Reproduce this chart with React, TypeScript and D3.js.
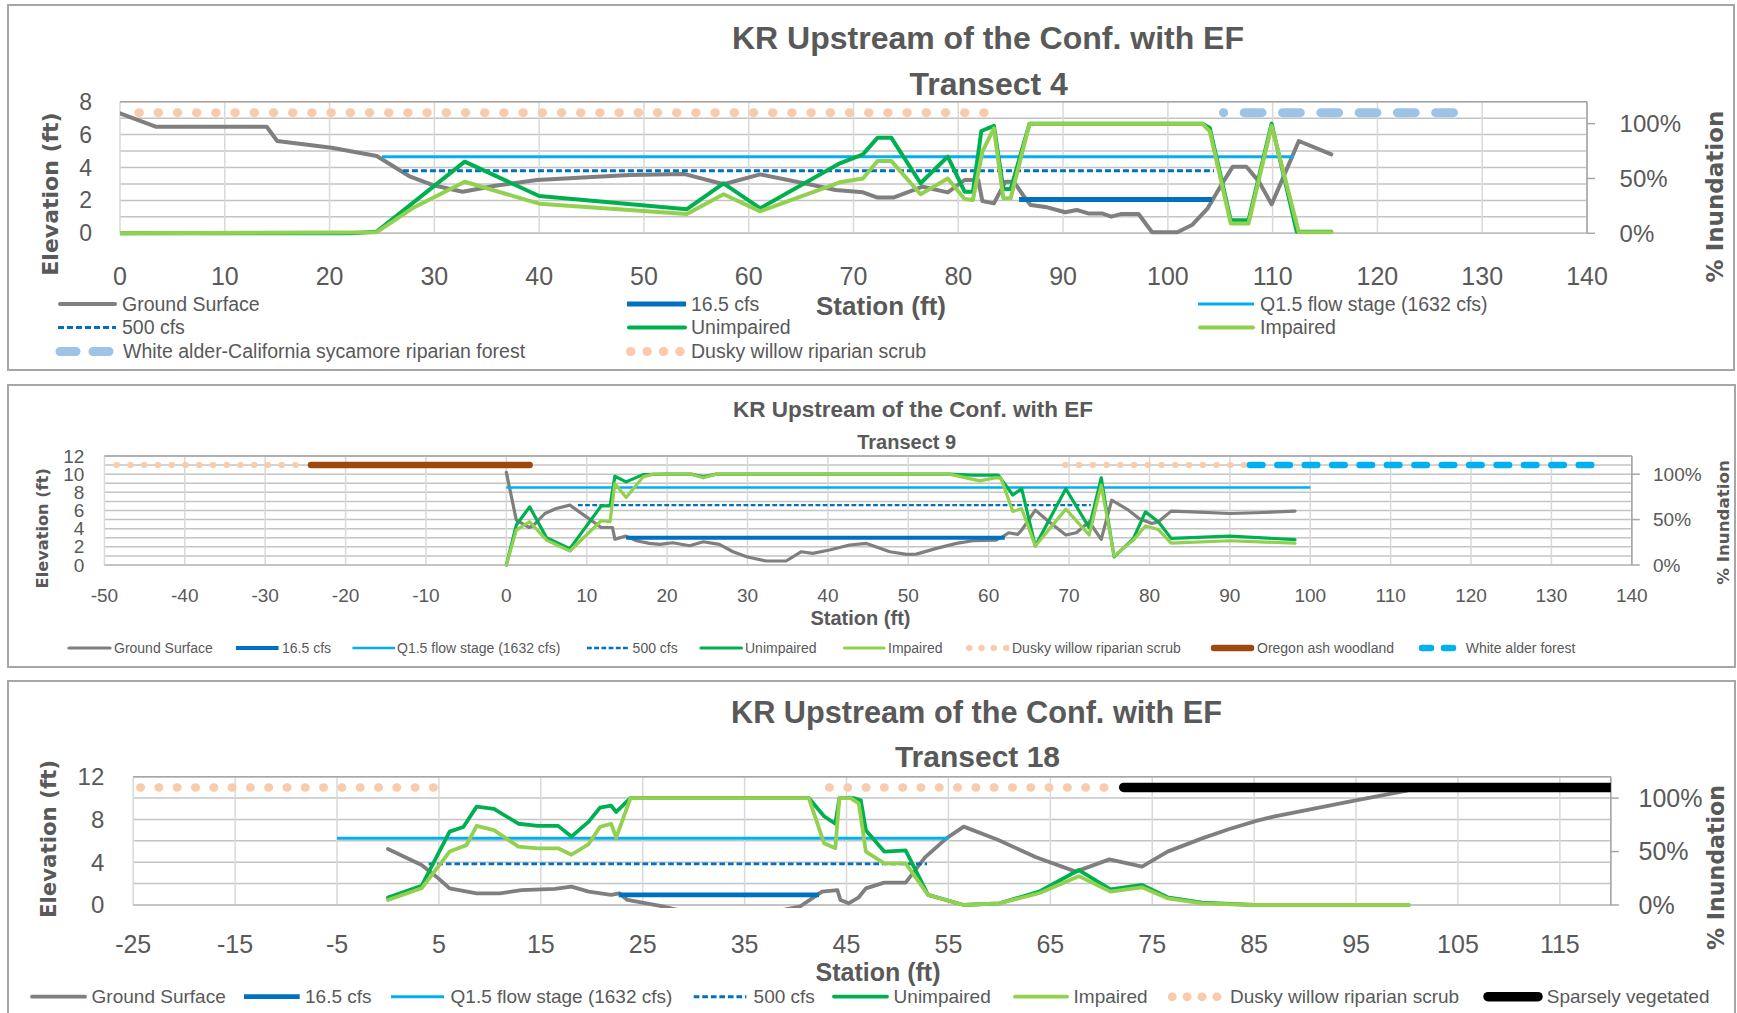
import React from 'react';
import * as d3 from 'd3';

type Pt = [number, number];

// ---------- Transect 4 ----------
const t4Ground: Pt[] = [[0,7.29],[3.4,6.48],[14.0,6.48],[15.0,5.61],[20.2,5.2],[24.5,4.7],[27.7,3.44],[29.8,2.94],[32.7,2.53],[35.8,2.89],[39.8,3.24],[48.6,3.54],[53.9,3.6],[57.6,2.98],[61.1,3.58],[66.1,2.94],[68.3,2.63],[70.9,2.49],[72.3,2.17],[73.8,2.17],[76.6,2.83],[79.0,2.49],[80.6,3.24],[81.9,3.24],[82.3,1.96],[83.4,1.82],[84.5,3.14],[85.3,3.14],[86.2,2.3],[86.9,1.72],[88.5,1.58],[90.2,1.28],[91.3,1.42],[92.4,1.21],[93.7,1.21],[94.6,1.01],[95.5,1.17],[97.2,1.17],[98.5,0.06],[100.9,0.06],[102.3,0.5],[103.8,1.52],[105.1,2.94],[106.2,4.05],[107.5,4.05],[108.7,3.14],[109.9,1.76],[112.5,5.61],[115.6,4.8]];
const t4Unimpaired: Pt[] = [[0,0],[22,0],[24.5,0.015],[32.9,0.653],[40,0.34],[54.1,0.22],[57.6,0.456],[61.1,0.228],[68.7,0.638],[70.9,0.72],[72.3,0.872],[73.6,0.872],[76.4,0.456],[79.0,0.7],[80.6,0.38],[81.4,0.38],[82.2,0.933],[83.4,0.98],[84.3,0.404],[85.0,0.404],[86.8,1.0],[103.3,1.0],[104.0,0.96],[106.0,0.12],[107.7,0.12],[109.9,1.0],[112.3,0.015],[115.6,0.015]];
const t4Impaired: Pt[] = [[0,0],[24.5,0.01],[27.9,0.228],[32.9,0.47],[40,0.27],[54.1,0.176],[57.6,0.356],[61.1,0.2],[68.7,0.465],[70.9,0.5],[72.3,0.66],[73.6,0.66],[76.4,0.356],[79.0,0.5],[80.6,0.313],[81.4,0.304],[82.3,0.745],[83.4,0.957],[84.3,0.32],[85.0,0.32],[86.8,1.0],[103.3,1.0],[104.0,0.93],[106.0,0.09],[107.7,0.09],[109.9,0.98],[112.5,0.01],[115.6,0.01]];
const t4Q15: Pt[] = [[25,4.66],[112,4.66]];
const t4Cfs500: Pt[] = [[27,3.8],[104.4,3.8]];
const t4Cfs16: Pt[] = [[85.8,2.06],[104.2,2.06]];
const t4DuskyWillow: Pt[] = [[1.8,1.1],[82.6,1.1]];
const t4WhiteAlder: Pt[] = [[105.3,1.1],[127.8,1.1]];

// ---------- Transect 9 ----------
const t9Ground: Pt[] = [[0,10.2],[1.24,4.94],[2.8,4.13],[3.3,4.3],[4.8,5.67],[6.2,6.22],[7.9,6.59],[9.95,5.3],[11.8,4.13],[13.2,4.13],[13.5,2.85],[14.9,3.18],[16.2,2.67],[17.8,2.38],[19.1,2.27],[20.7,2.45],[22.8,2.12],[24.5,2.56],[26.5,2.27],[28.2,1.46],[29.9,0.91],[32.3,0.44],[34.8,0.44],[36.7,1.46],[38.1,1.28],[40.2,1.65],[42.7,2.2],[44.8,2.38],[47.7,1.46],[49.8,1.17],[51.0,1.2],[53.5,1.83],[56.0,2.38],[58.0,2.67],[60.9,2.74],[61.7,3.1],[62.5,3.55],[63.6,3.37],[64.1,3.84],[65.8,6.04],[67.5,4.76],[69.6,3.3],[70.9,3.55],[72.5,4.76],[74.0,2.82],[75.3,7.13],[77.4,6.04],[78.7,5.12],[80.3,4.57],[81.1,4.76],[82.7,5.93],[85.3,5.85],[90,5.67],[94.2,5.78],[98.1,5.93]];
const t9Unimpaired: Pt[] = [[0,0],[1.24,0.44],[2.9,0.64],[5.0,0.3],[7.9,0.18],[11.8,0.65],[12.9,0.65],[13.5,0.977],[14.9,0.915],[17.0,0.995],[19.9,1.0],[23,1.0],[24.5,0.97],[26.1,1.0],[55.1,1.0],[58.0,0.99],[61.2,0.99],[63.0,0.77],[64.1,0.84],[65.8,0.21],[69.6,0.84],[72.5,0.41],[74.0,0.96],[75.6,0.09],[78.0,0.29],[79.5,0.585],[81.1,0.476],[82.7,0.293],[90,0.318],[98.1,0.28]];
const t9Impaired: Pt[] = [[0,0],[1.24,0.384],[2.9,0.476],[5.0,0.274],[7.9,0.154],[11.8,0.487],[12.9,0.476],[13.5,0.896],[14.9,0.743],[17.0,0.97],[18.3,1.0],[23,1.0],[24.5,0.96],[26.1,1.0],[55.1,1.0],[58.9,0.926],[60.9,0.96],[61.5,0.96],[63.0,0.59],[64.1,0.62],[65.8,0.21],[69.6,0.615],[72.5,0.33],[74.0,0.88],[75.6,0.1],[78.0,0.274],[79.5,0.43],[81.1,0.39],[82.7,0.24],[90,0.267],[98.1,0.24]];
const t9Q15: Pt[] = [[0,8.53],[100,8.53]];
const t9Cfs500: Pt[] = [[8.9,6.59],[72.7,6.59]];
const t9Cfs16: Pt[] = [[14.9,3.0],[62.0,3.0]];
const t9DuskyWillowA: Pt[] = [[-48.5,1.1],[-26,1.1]];
const t9OregonAsh: Pt[] = [[-24.3,1.1],[2.9,1.1]];
const t9DuskyWillowB: Pt[] = [[69.5,1.1],[91.8,1.1]];
const t9WhiteAlder: Pt[] = [[92.5,1.1],[135.2,1.1]];

// ---------- Transect 18 ----------
const t18Ground: Pt[] = [[0,5.24],[3.3,3.74],[4.95,2.49],[6.05,1.56],[8.7,1.09],[11.0,1.09],[13.1,1.4],[16.4,1.5],[18.0,1.72],[19.7,1.25],[21.9,0.94],[22.7,1.09],[23.5,0.47],[26.7,-0.09],[30,-0.8],[35,-1.0],[38,-0.6],[40.4,-0.16],[42.6,1.25],[44.1,1.4],[44.4,0.47],[45.2,0.16],[46.2,0.72],[46.9,1.56],[48.7,2.09],[50.8,2.09],[52.7,4.46],[54.8,6.23],[56.5,7.33],[59.9,6.08],[63.6,4.46],[67.5,3.12],[70.8,4.27],[74.0,3.58],[76.5,4.99],[79.9,6.23],[82.5,7.08],[85.3,7.89],[86.9,8.26],[95.1,9.8],[100,10.7]];
const t18Unimpaired: Pt[] = [[0,0.07],[3.3,0.18],[6.05,0.686],[7.4,0.73],[8.7,0.92],[10.4,0.9],[12.8,0.76],[14.7,0.74],[16.7,0.74],[18.0,0.64],[19.7,0.78],[20.8,0.91],[21.9,0.93],[22.4,0.87],[23.8,1.0],[41.3,1.0],[42.8,0.83],[43.9,0.76],[44.3,1.0],[45.7,1.0],[46.4,0.98],[46.9,0.7],[48.7,0.5],[50.8,0.51],[53.0,0.094],[56.5,0.0],[60.0,0.016],[63.9,0.125],[67.8,0.327],[70.9,0.147],[74.0,0.187],[76.5,0.072],[79.9,0.022],[85,0.0],[100,0.0]];
const t18Impaired: Pt[] = [[0,0.047],[3.3,0.156],[6.05,0.5],[7.7,0.56],[8.7,0.74],[10.4,0.7],[12.8,0.546],[14.7,0.53],[16.7,0.53],[18.0,0.47],[19.7,0.57],[20.8,0.73],[21.9,0.76],[22.4,0.63],[23.8,1.0],[41.3,1.0],[42.8,0.577],[43.9,0.53],[44.3,1.0],[45.4,1.0],[46.2,0.95],[46.9,0.5],[48.7,0.39],[50.8,0.39],[53.0,0.094],[56.5,0.0],[60.0,0.016],[63.9,0.11],[67.8,0.27],[70.9,0.125],[74.0,0.165],[76.5,0.062],[79.9,0.016],[85,0.0],[100.2,0.0]];
const t18Q15: Pt[] = [[-5,6.24],[55,6.24]];
const t18Cfs500: Pt[] = [[4,3.84],[52.9,3.84]];
const t18Cfs16: Pt[] = [[22.65,0.94],[42.3,0.94]];
const t18DuskyWillowA: Pt[] = [[-24.3,1.1],[4.7,1.1]];
const t18DuskyWillowB: Pt[] = [[43.3,1.1],[70.4,1.1]];
const t18Sparse: Pt[] = [[72.2,1.1],[120,1.1]];

// ---------- labels ----------
const chartTitle = 'KR Upstream of the Conf. with EF';
const transectNames = ['Transect 4', 'Transect 9', 'Transect 18'];
const y2Labels = [0, 0.5, 1];

const TXT = '#595959';
const SANS = '"Liberation Sans", Arial, sans-serif';
const DEJA = '"DejaVu Sans", Verdana, sans-serif';

interface Style { color: string; width: number; dash?: string; offset?: number; cap?: 'round' | 'butt' | 'square'; }
interface Series { data: Pt[]; axis: 1 | 2; style: Style; }
interface LegendItem { label: string; style: Style; x1: number; x2: number; y: number; tx: number; }
interface PanelCfg {
  id: string;
  frame: [number, number, number, number];
  plot: { left: number; right: number; top: number; bottom: number };
  xDomain: [number, number];
  xTicks: number[];
  yMax: number;
  yGrid: number[];
  yLabels: number[];
  series: Series[];
  legend: LegendItem[];
  legendSize: number;
  title: { x1: number; y1: number; s1: number; x2: number; y2: number; s2: number; name: string };
  xTick: { size: number; base: number };
  yTick: { size: number; right: number };
  y2Tick: { size: number; left: number };
  elev: { x: number; y: number; size: number };
  inund: { x: number; y: number; size: number };
  station: { x: number; base: number; size: number };
}

function mkStyles(k: number) {
  return {
    ground: { color: '#7F7F7F', width: 4 * k, cap: 'round' } as Style,
    cfs16: { color: '#0070C0', width: 5 * k, cap: 'butt' } as Style,
    q15: { color: '#00B0F0', width: 3 * k, cap: 'butt' } as Style,
    cfs500: { color: '#0070C0', width: 3 * k, dash: `${6 * k} ${3 * k}`, cap: 'butt' } as Style,
    unimp: { color: '#00B050', width: 4 * k, cap: 'round' } as Style,
    imp: { color: '#92D050', width: 4 * k, cap: 'round' } as Style,
  };
}

const s1 = mkStyles(1);
const s2 = mkStyles(0.8);
const s3 = mkStyles(0.95);

const duskyP1: Style = { color: '#F8CBAD', width: 9, dash: '0.5 18.7', cap: 'round' };
const alderP1: Style = { color: '#9DC3E6', width: 9, dash: '17.8 20.5', offset: 17.5, cap: 'round' };
const duskyP2: Style = { color: '#F8CBAD', width: 6, dash: '0.5 13.25', cap: 'round' };
const ashP2: Style = { color: '#9E480E', width: 6.5, cap: 'round' };
const alderP2: Style = { color: '#00B0F0', width: 6.5, dash: '12.5 14.9', cap: 'round' };
const duskyP3: Style = { color: '#F8CBAD', width: 8.5, dash: '0.5 17.8', cap: 'round' };
const sparseP3: Style = { color: '#000000', width: 9.5, cap: 'round' };

const panels: PanelCfg[] = [
  {
    id: 'p1', frame: [8, 5, 1726, 365],
    plot: { left: 120, right: 1587, top: 101.7, bottom: 233.3 },
    xDomain: [0, 140], xTicks: d3.range(0, 141, 10),
    yMax: 8, yGrid: d3.range(0, 9, 1), yLabels: d3.range(0, 9, 2),
    series: [
      { data: t4Ground, axis: 1, style: s1.ground },
      { data: t4Cfs16, axis: 1, style: s1.cfs16 },
      { data: t4Q15, axis: 1, style: s1.q15 },
      { data: t4Cfs500, axis: 1, style: s1.cfs500 },
      { data: t4Unimpaired, axis: 2, style: s1.unimp },
      { data: t4Impaired, axis: 2, style: s1.imp },
      { data: t4WhiteAlder, axis: 2, style: alderP1 },
      { data: t4DuskyWillow, axis: 2, style: duskyP1 },
    ],
    legend: [
      { label: 'Ground Surface', style: s1.ground, x1: 60, x2: 115, y: 304, tx: 122 },
      { label: '16.5 cfs', style: s1.cfs16, x1: 627, x2: 686, y: 304, tx: 691 },
      { label: 'Q1.5 flow stage (1632 cfs)', style: s1.q15, x1: 1198, x2: 1254, y: 304, tx: 1260 },
      { label: '500 cfs', style: s1.cfs500, x1: 58, x2: 116, y: 327.5, tx: 122 },
      { label: 'Unimpaired', style: s1.unimp, x1: 629, x2: 685, y: 327.5, tx: 691 },
      { label: 'Impaired', style: s1.imp, x1: 1200, x2: 1253, y: 327.5, tx: 1260 },
      { label: 'White alder-California sycamore riparian forest', style: { ...alderP1, dash: '16 17', offset: 0 }, x1: 60, x2: 109.5, y: 351.5, tx: 123 },
      { label: 'Dusky willow riparian scrub', style: { ...duskyP1, dash: '0.5 15.9' }, x1: 630.5, x2: 680.5, y: 351.5, tx: 691 },
    ],
    legendSize: 19.5,
    title: { x1: 988, y1: 49.3, s1: 32, x2: 988.7, y2: 95, s2: 32, name: transectNames[0] },
    xTick: { size: 25, base: 285 },
    yTick: { size: 23, right: 92 },
    y2Tick: { size: 24, left: 1619.6 },
    elev: { x: 50, y: 194, size: 22 },
    inund: { x: 1714.5, y: 196.5, size: 23 },
    station: { x: 881, base: 315, size: 26 },
  },
  {
    id: 'p2', frame: [8, 385, 1727, 282],
    plot: { left: 104.4, right: 1631.8, top: 456, bottom: 565 },
    xDomain: [-50, 140], xTicks: d3.range(-50, 141, 10),
    yMax: 12, yGrid: d3.range(0, 13, 1), yLabels: d3.range(0, 13, 2),
    series: [
      { data: t9Ground, axis: 1, style: s2.ground },
      { data: t9Cfs16, axis: 1, style: s2.cfs16 },
      { data: t9Q15, axis: 1, style: s2.q15 },
      { data: t9Cfs500, axis: 1, style: s2.cfs500 },
      { data: t9Unimpaired, axis: 2, style: s2.unimp },
      { data: t9Impaired, axis: 2, style: s2.imp },
      { data: t9DuskyWillowA, axis: 2, style: duskyP2 },
      { data: t9OregonAsh, axis: 2, style: ashP2 },
      { data: t9DuskyWillowB, axis: 2, style: duskyP2 },
      { data: t9WhiteAlder, axis: 2, style: alderP2 },
    ],
    legend: [
      { label: 'Ground Surface', style: s2.ground, x1: 69, x2: 110, y: 648, tx: 114 },
      { label: '16.5 cfs', style: s2.cfs16, x1: 236, x2: 278.6, y: 648, tx: 282 },
      { label: 'Q1.5 flow stage (1632 cfs)', style: s2.q15, x1: 352.4, x2: 395, y: 648, tx: 397 },
      { label: '500 cfs', style: s2.cfs500, x1: 587, x2: 630, y: 648, tx: 632.6 },
      { label: 'Unimpaired', style: s2.unimp, x1: 701, x2: 741.5, y: 648, tx: 745 },
      { label: 'Impaired', style: s2.imp, x1: 844.5, x2: 884, y: 648, tx: 888 },
      { label: 'Dusky willow riparian scrub', style: { ...duskyP2, dash: '0.5 11.8' }, x1: 969, x2: 1006.5, y: 648, tx: 1012 },
      { label: 'Oregon ash woodland', style: ashP2, x1: 1214, x2: 1251, y: 648, tx: 1257 },
      { label: 'White alder forest', style: { ...alderP2, dash: '9 13', offset: 0 }, x1: 1422, x2: 1458, y: 648, tx: 1465.7 },
    ],
    legendSize: 14,
    title: { x1: 913, y1: 416.7, s1: 22.5, x2: 906.7, y2: 449.3, s2: 20, name: transectNames[1] },
    xTick: { size: 19, base: 601.7 },
    yTick: { size: 19, right: 84.4 },
    y2Tick: { size: 19, left: 1653 },
    elev: { x: 42, y: 528.3, size: 16.2 },
    inund: { x: 1722.8, y: 522.5, size: 16.7 },
    station: { x: 860.5, base: 625, size: 20 },
  },
  {
    id: 'p3', frame: [8, 681, 1727, 345],
    plot: { left: 133.2, right: 1610.8, top: 776.7, bottom: 905 },
    xDomain: [-25, 120], xTicks: d3.range(-25, 116, 10),
    yMax: 12, yGrid: d3.range(0, 13, 2), yLabels: d3.range(0, 13, 4),
    series: [
      { data: t18Ground, axis: 1, style: s3.ground },
      { data: t18Cfs16, axis: 1, style: s3.cfs16 },
      { data: t18Q15, axis: 1, style: s3.q15 },
      { data: t18Cfs500, axis: 1, style: s3.cfs500 },
      { data: t18Unimpaired, axis: 2, style: s3.unimp },
      { data: t18Impaired, axis: 2, style: s3.imp },
      { data: t18DuskyWillowA, axis: 2, style: duskyP3 },
      { data: t18DuskyWillowB, axis: 2, style: duskyP3 },
      { data: t18Sparse, axis: 2, style: sparseP3 },
    ],
    legend: [
      { label: 'Ground Surface', style: s3.ground, x1: 32, x2: 85, y: 996.7, tx: 91.6 },
      { label: '16.5 cfs', style: s3.cfs16, x1: 244, x2: 299.7, y: 996.7, tx: 305 },
      { label: 'Q1.5 flow stage (1632 cfs)', style: s3.q15, x1: 391, x2: 444, y: 996.7, tx: 450.6 },
      { label: '500 cfs', style: s3.cfs500, x1: 693.7, x2: 746.4, y: 996.7, tx: 753.6 },
      { label: 'Unimpaired', style: s3.unimp, x1: 834, x2: 887, y: 996.7, tx: 893.6 },
      { label: 'Impaired', style: s3.imp, x1: 1015, x2: 1067, y: 996.7, tx: 1073.6 },
      { label: 'Dusky willow riparian scrub', style: { ...duskyP3, dash: '0.5 14.4' }, x1: 1172, x2: 1217.5, y: 996.7, tx: 1230 },
      { label: 'Sparsely vegetated', style: sparseP3, x1: 1488, x2: 1538, y: 996.7, tx: 1546.8 },
    ],
    legendSize: 19,
    title: { x1: 976.5, y1: 723.3, s1: 30.7, x2: 977.5, y2: 766.7, s2: 30, name: transectNames[2] },
    xTick: { size: 25, base: 953.3 },
    yTick: { size: 24, right: 104.3 },
    y2Tick: { size: 25, left: 1638.5 },
    elev: { x: 48.5, y: 839, size: 21.3 },
    inund: { x: 1716, y: 867.5, size: 22.1 },
    station: { x: 878, base: 980.5, size: 25 },
  },
];

function StyledPath({ d, st }: { d: string; st: Style }) {
  return (
    <path d={d} fill="none" stroke={st.color} strokeWidth={st.width}
      strokeDasharray={st.dash} strokeDashoffset={st.offset}
      strokeLinecap={st.cap || 'butt'} strokeLinejoin="round" />
  );
}

function Panel({ cfg }: { cfg: PanelCfg }) {
  const { plot } = cfg;
  const x = d3.scaleLinear().domain(cfg.xDomain).range([plot.left, plot.right]);
  const y = d3.scaleLinear().domain([0, cfg.yMax]).range([plot.bottom, plot.top]);
  const y2 = d3.scaleLinear().domain([0, 1.2]).range([plot.bottom, plot.top]);
  const mkLine = (axis: 1 | 2) => d3.line<Pt>().x(d => x(d[0])).y(d => (axis === 2 ? y2 : y)(d[1]));
  const [fx, fy, fw, fh] = cfg.frame;
  const tickLen = 8;
  return (
    <g>
      <rect x={fx} y={fy} width={fw} height={fh} fill="#fff" stroke="#A6A6A6" strokeWidth={2} />
      <defs>
        <clipPath id={`clip-${cfg.id}`}>
          <rect x={plot.left} y={plot.top - 3} width={plot.right - plot.left} height={plot.bottom - plot.top + 6} />
        </clipPath>
      </defs>
      {cfg.yGrid.map(v => (
        <line key={`hg${v}`} x1={plot.left} x2={plot.right} y1={y(v)} y2={y(v)} stroke="#C4C4C4" strokeWidth={1.5} />
      ))}
      {[...cfg.xTicks, cfg.xDomain[1]].map((v, i) => (
        <line key={`vg${i}`} x1={x(v)} x2={x(v)} y1={plot.top} y2={plot.bottom} stroke="#D9D9D9" strokeWidth={1.5} />
      ))}
      <line x1={plot.left} x2={plot.right} y1={plot.top} y2={plot.top} stroke="#A6A6A6" strokeWidth={1.5} />
      <line x1={plot.left} x2={plot.right} y1={plot.bottom} y2={plot.bottom} stroke="#BFBFBF" strokeWidth={1.5} />
      <line x1={plot.right} x2={plot.right} y1={plot.top} y2={plot.bottom} stroke="#A6A6A6" strokeWidth={1.5} />
      {y2Labels.map(v => (
        <line key={`t2${v}`} x1={plot.right} x2={plot.right + tickLen} y1={y2(v)} y2={y2(v)} stroke="#A6A6A6" strokeWidth={1.5} />
      ))}
      <g clipPath={`url(#clip-${cfg.id})`}>
        {cfg.series.map((s, i) => (
          <StyledPath key={i} d={mkLine(s.axis)(s.data) || ''} st={s.style} />
        ))}
      </g>
      {cfg.xTicks.map(v => (
        <text key={`xt${v}`} x={x(v)} y={cfg.xTick.base} textAnchor="middle" fontFamily={SANS} fontSize={cfg.xTick.size} fill={TXT}>{v}</text>
      ))}
      {cfg.yLabels.map(v => (
        <text key={`yt${v}`} x={cfg.yTick.right} y={y(v)} dy="0.35em" textAnchor="end" fontFamily={SANS} fontSize={cfg.yTick.size} fill={TXT}>{v}</text>
      ))}
      {y2Labels.map(v => (
        <text key={`y2t${v}`} x={cfg.y2Tick.left} y={y2(v)} dy="0.35em" textAnchor="start" fontFamily={SANS} fontSize={cfg.y2Tick.size} fill={TXT}>{d3.format('.0%')(v)}</text>
      ))}
      <text transform={`translate(${cfg.elev.x},${cfg.elev.y}) rotate(-90)`} textAnchor="middle" dy="0.35em" fontFamily={DEJA} fontWeight="bold" fontSize={cfg.elev.size} fill={TXT}>Elevation (ft)</text>
      <text transform={`translate(${cfg.inund.x},${cfg.inund.y}) rotate(-90)`} textAnchor="middle" dy="0.35em" fontFamily={DEJA} fontWeight="bold" fontSize={cfg.inund.size} fill={TXT}>% Inundation</text>
      <text x={cfg.station.x} y={cfg.station.base} textAnchor="middle" fontFamily={SANS} fontWeight="bold" fontSize={cfg.station.size} fill={TXT}>Station (ft)</text>
      <text x={cfg.title.x1} y={cfg.title.y1} textAnchor="middle" fontFamily={SANS} fontWeight="bold" fontSize={cfg.title.s1} fill={TXT}>{chartTitle}</text>
      <text x={cfg.title.x2} y={cfg.title.y2} textAnchor="middle" fontFamily={SANS} fontWeight="bold" fontSize={cfg.title.s2} fill={TXT}>{cfg.title.name}</text>
      {cfg.legend.map((l, i) => (
        <g key={`lg${i}`}>
          <StyledPath d={`M${l.x1},${l.y}L${l.x2},${l.y}`} st={l.style} />
          <text x={l.tx} y={l.y} dy="0.35em" fontFamily={SANS} fontSize={cfg.legendSize} fill={TXT}>{l.label}</text>
        </g>
      ))}
    </g>
  );
}

export default function App() {
  return (
    <svg width={1737} height={1013} viewBox="0 0 1737 1013"
      style={{ position: 'absolute', left: 0, top: 0, background: '#fff' }}>
      <rect x={0} y={0} width={1737} height={1013} fill="#fff" />
      {panels.map(p => <Panel key={p.id} cfg={p} />)}
    </svg>
  );
}
